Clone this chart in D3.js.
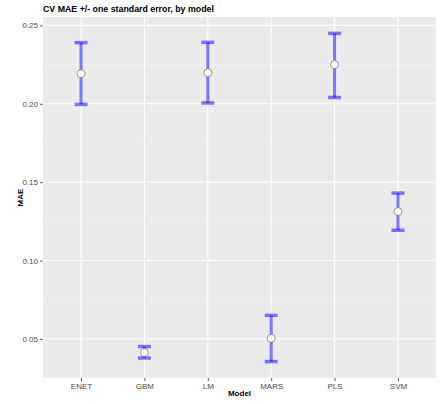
<!DOCTYPE html>
<html>
<head>
<meta charset="utf-8">
<script src="https://cdn.jsdelivr.net/npm/d3@7"></script>
<style>
  html, body { margin: 0; padding: 0; background: #fff; }
  svg { display: block; font-family: "Liberation Sans", Arial, sans-serif; }
</style>
</head>
<body>
<svg id="chart" width="442" height="404"></svg>
<script>
// Cross-validated MAE per model, with +/- one standard error bounds
const models = ["ENET", "GBM", "LM", "MARS", "PLS", "SVM"];
const maeMean = [0.2192, 0.0413, 0.2198, 0.0504, 0.2250, 0.1312];
const maeLower = [0.1996, 0.0378, 0.2005, 0.0355, 0.2040, 0.1193];
const maeUpper = [0.2390, 0.0451, 0.2392, 0.0650, 0.2449, 0.1430];
const yTicks = [0.05, 0.10, 0.15, 0.20, 0.25];
const yMinor = [0.075, 0.125, 0.175, 0.225];

const rows = models.map((m, i) => ({ model: m, mean: maeMean[i], lo: maeLower[i], hi: maeUpper[i] }));

const svg = d3.select("#chart");
const panel = { left: 43, right: 436, top: 17, bottom: 378 };

// discrete x scale with 0.6 band expansion on each side
const x = d3.scalePoint()
  .domain(models)
  .range([panel.left, panel.right])
  .padding(0.6);

const dataMin = d3.min(maeLower), dataMax = d3.max(maeUpper);
const pad = (dataMax - dataMin) * 0.05;
const y = d3.scaleLinear()
  .domain([dataMin - pad, dataMax + pad])
  .range([panel.bottom, panel.top]);

// panel background
svg.append("rect")
  .attr("x", panel.left).attr("y", panel.top)
  .attr("width", panel.right - panel.left)
  .attr("height", panel.bottom - panel.top)
  .attr("fill", "#EBEBEB");

// minor grid
svg.append("g").selectAll("line").data(yMinor).join("line")
  .attr("x1", panel.left).attr("x2", panel.right)
  .attr("y1", d => y(d)).attr("y2", d => y(d))
  .attr("stroke", "#F5F5F5").attr("stroke-width", 0.6);

// major grid
svg.append("g").selectAll("line").data(yTicks).join("line")
  .attr("x1", panel.left).attr("x2", panel.right)
  .attr("y1", d => y(d)).attr("y2", d => y(d))
  .attr("stroke", "#FFFFFF").attr("stroke-width", 1);
svg.append("g").selectAll("line").data(models).join("line")
  .attr("x1", d => x(d)).attr("x2", d => x(d))
  .attr("y1", panel.top).attr("y2", panel.bottom)
  .attr("stroke", "#FFFFFF").attr("stroke-width", 1);

// axes
const yAxis = svg.append("g")
  .attr("transform", `translate(${panel.left},0)`)
  .call(d3.axisLeft(y).tickValues(yTicks).tickFormat(d3.format(".2f")).tickSize(3).tickPadding(2));
const xAxis = svg.append("g")
  .attr("transform", `translate(0,${panel.bottom})`)
  .call(d3.axisBottom(x).tickSize(3).tickPadding(2));
[yAxis, xAxis].forEach(a => {
  a.select(".domain").remove();
  a.selectAll(".tick line").attr("stroke", "#333333").attr("stroke-width", 0.8);
  a.selectAll(".tick text")
    .attr("fill", "#4D4D4D")
    .style("font-size", "8px")
    .style("font-family", "Liberation Sans, Arial, sans-serif");
});

// error bars
const bars = svg.append("g").selectAll("g").data(rows).join("g")
  .attr("stroke", "rgba(0,0,255,0.5)");
bars.append("line")
  .attr("x1", d => x(d.model)).attr("x2", d => x(d.model))
  .attr("y1", d => y(d.hi)).attr("y2", d => y(d.lo))
  .attr("stroke-width", 3);
bars.append("line")
  .attr("x1", d => x(d.model) - 6.5).attr("x2", d => x(d.model) + 6.5)
  .attr("y1", d => y(d.hi)).attr("y2", d => y(d.hi))
  .attr("stroke-width", 3.5);
bars.append("line")
  .attr("x1", d => x(d.model) - 6.5).attr("x2", d => x(d.model) + 6.5)
  .attr("y1", d => y(d.lo)).attr("y2", d => y(d.lo))
  .attr("stroke-width", 3.5);

// mean points
svg.append("g").selectAll("circle").data(rows).join("circle")
  .attr("cx", d => x(d.model)).attr("cy", d => y(d.mean))
  .attr("r", 4)
  .attr("fill", "#FFFFFF")
  .attr("stroke", "#6E6E6E")
  .attr("stroke-width", 0.7);

// title and axis titles
svg.append("text")
  .attr("x", panel.left).attr("y", 12)
  .attr("font-size", "8.8px").attr("font-weight", "bold").attr("fill", "#000")
  .text("CV MAE +/- one standard error, by model");
svg.append("text")
  .attr("x", (panel.left + panel.right) / 2).attr("y", 396)
  .attr("text-anchor", "middle")
  .attr("font-size", "8px").attr("font-weight", "bold").attr("fill", "#000")
  .text("Model");
svg.append("text")
  .attr("transform", `translate(23,${(panel.top + panel.bottom) / 2}) rotate(-90)`)
  .attr("text-anchor", "middle")
  .attr("font-size", "8px").attr("font-weight", "bold").attr("fill", "#000")
  .text("MAE");
</script>
</body>
</html>
